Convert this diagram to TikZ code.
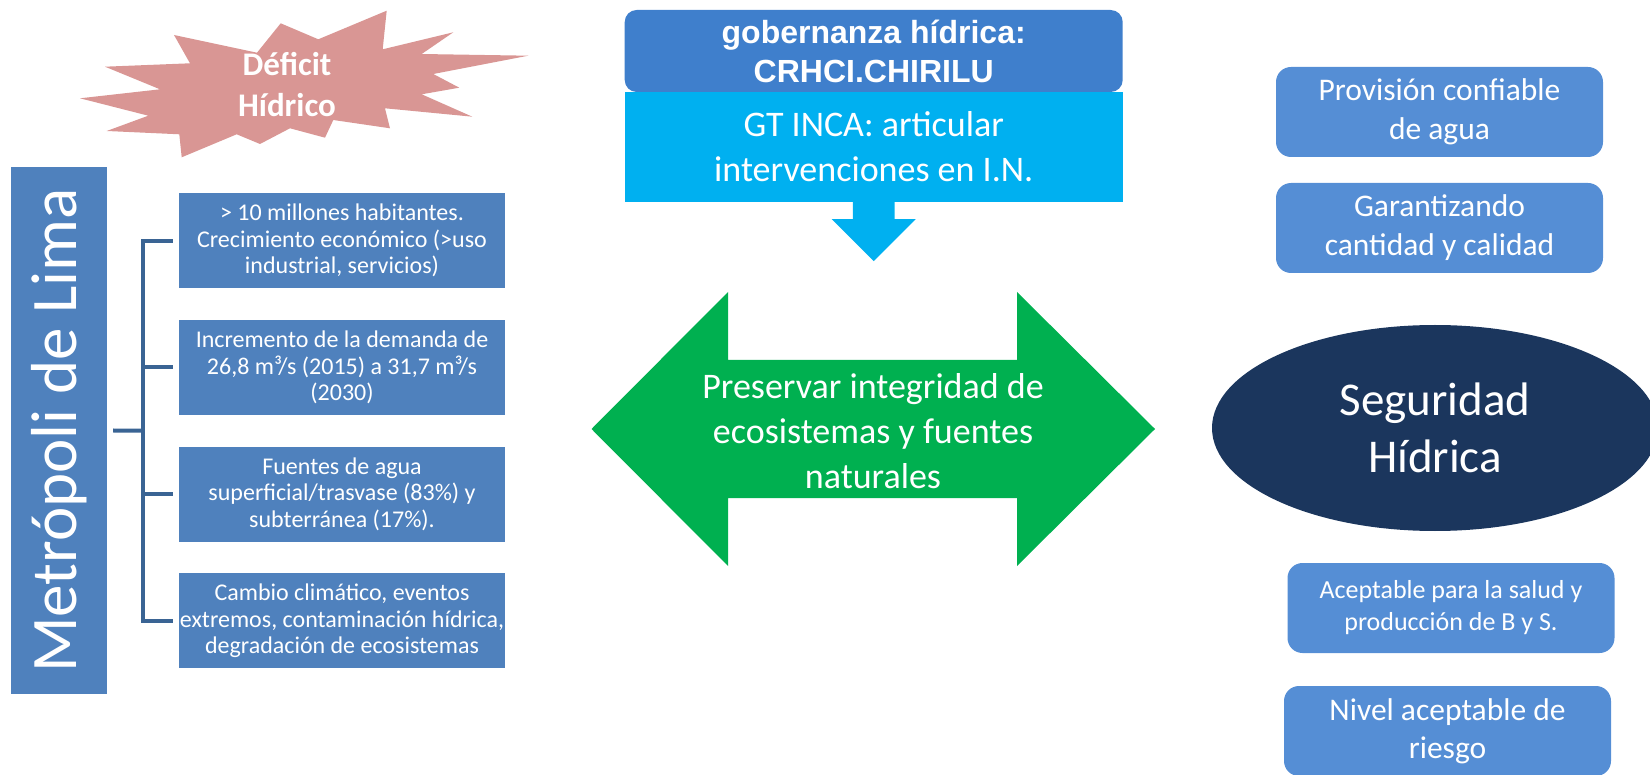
\documentclass[tikz,border=0pt]{standalone}
\usepackage{fontspec}
\setmainfont{Carlito}
\newfontfamily\arialfont{Liberation Sans}
\usepackage{tikz}
\usetikzlibrary{shapes.geometric}

\definecolor{leftblue}{HTML}{4F81BD}
\definecolor{bracketblue}{HTML}{3A6494}
\definecolor{govblue}{HTML}{3F7FCC}
\definecolor{incacyan}{HTML}{00B0F0}
\definecolor{arrowgreen}{HTML}{00B050}
\definecolor{rightblue}{HTML}{558ED5}
\definecolor{navy}{HTML}{1B365D}
\definecolor{starpink}{HTML}{D99694}

\tikzset{
  leftbox/.style={fill=leftblue,text=white,align=center,inner sep=1pt,
    minimum width=326,minimum height=95,font=\fontsize{24}{26.5}\selectfont},
  rightbox/.style={fill=rightblue,text=white,align=center,inner sep=2pt,
    rounded corners=15,minimum width=327,minimum height=90},
  link/.style={draw=bracketblue,line width=4}
}

\begin{document}
\begin{tikzpicture}[x=1pt,y=-1pt]
\useasboundingbox (0,0) rectangle (1650,775);
\clip (0,0) rectangle (1650,775);
% left side
\fill [starpink] (174,35) -- (257,52.7) -- (280.7,23.3) -- (318.3,39.3) -- (386.7,10.7)
  -- (382.7,49.3) -- (453.3,32.3) -- (421.7,54) -- (528.3,55.7) -- (433.3,74)
  -- (459.3,87.7) -- (421.7,94.3) -- (472.3,116.7) -- (385,108.3) -- (390,128.3)
  -- (333.3,120) -- (325,137.7) -- (290,128.3) -- (260,144) -- (236.7,134.3)
  -- (181.7,157.3) -- (179.3,134.3) -- (106.7,131) -- (148.3,115.7) -- (80,98.3)
  -- (160,89.3) -- (105,66.7) -- (190,63.3) -- cycle;
\node [text=white,align=center,font=\bfseries\fontsize{33}{41}\selectfont] (deficit) at (287,85) {Déficit\\ Hídrico};
\node [rotate=90,fill=leftblue,text=white,inner sep=0,minimum width=527,minimum height=96,
  font=\fontsize{65}{70}\selectfont] (lima) at (59,430.5) {Metrópoli de Lima};
\node [leftbox] (habitantes) at (342,240.8) {> 10 millones habitantes.\\ Crecimiento económico (>uso\\ industrial, servicios)};
\node [leftbox] (demanda) at (342,367.5) {Incremento de la demanda de\\ 26,8 m³/s (2015) a 31,7 m³/s\\ (2030)};
\node [leftbox] (fuentes) at (342,494.2) {Fuentes de agua\\ superficial/trasvase (83\%) y\\ subterránea (17\%).};
\node [leftbox] (cambio) at (342,620.9) {Cambio climático, eventos\\ extremos, contaminación hídrica,\\ degradación de ecosistemas};
\coordinate (fork) at (143,430.7);
\draw [link] ([xshift=6]lima.south) -- (fork);
\draw [link] (fork) |- ([xshift=-6]habitantes.west);
\draw [link] (fork) |- ([xshift=-6]demanda.west);
\draw [link] (fork) |- ([xshift=-6]fuentes.west);
\draw [link] (fork) |- ([xshift=-6]cambio.west);
% middle
\node [fill=govblue,rounded corners=12,minimum width=498,minimum height=82,text=white,align=center,
  font=\arialfont\bfseries\fontsize{32}{39}\selectfont] (gobernanza) at (873.7,51) {gobernanza hídrica:\\ CRHCI.CHIRILU};
\node [fill=incacyan,minimum width=498,minimum height=110,text=white,align=center,
  font=\fontsize{36}{45}\selectfont] (gtinca) at (873.7,147) {GT INCA: articular\\ intervenciones en I.N.};
\fill [incacyan] ([xshift=-20.85]gtinca.south) -- ++(41.7,0) -- ++(0,17) -- ++(21.15,0)
  -- ++(-42,42) -- ++(-42,-42) -- ++(21.15,0) -- cycle;
\fill [arrowgreen] (591.5,429) -- (728,292) -- (728,360) -- (1017,360) -- (1017,292) -- (1155,429)
  -- (1017,566) -- (1017,498) -- (728,498) -- (728,566) -- cycle;
\node [text=white,align=center,font=\fontsize{36}{45}\selectfont] (preservar) at (873,431) {Preservar integridad de\\ ecosistemas y fuentes\\ naturales};
% right side
\node [rightbox,font=\fontsize{31.5}{39}\selectfont] (provision) at (1439.5,112) {Provisión confiable\\ de agua};
\node [rightbox,font=\fontsize{31.5}{39}\selectfont] (garantizando) at (1439.5,228) {Garantizando\\ cantidad y calidad};
\node [ellipse,fill=navy,text=white,align=center,inner sep=0,minimum width=446,minimum height=206,
  font=\fontsize{47}{57}\selectfont] (seguridad) at (1435,428) {Seguridad\\ Hídrica};
\node [rightbox,font=\fontsize{26}{32}\selectfont] (aceptable) at (1451,608) {Aceptable para la salud y\\ producción de B y S.};
\node [rightbox,font=\fontsize{31.5}{38}\selectfont] (riesgo) at (1447.5,731) {Nivel aceptable de\\ riesgo};
\end{tikzpicture}
\end{document}
